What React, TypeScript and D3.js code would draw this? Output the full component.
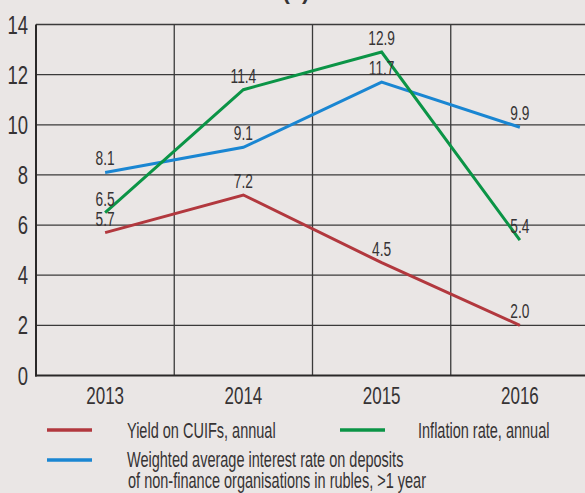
import React, { useEffect, useRef } from "react";
import * as d3 from "d3";

// chart values
const years = ["2013", "2014", "2015", "2016"];
const yieldCuif = [5.7, 7.2, 4.5, 2.0];
const inflation = [6.5, 11.4, 12.9, 5.4];
const deposits = [8.1, 9.1, 11.7, 9.9];
const yTicks = [0, 2, 4, 6, 8, 10, 12, 14];

const seriesList = [
  { name: "cuif", values: yieldCuif, color: "#b2383e" },
  { name: "deposits", values: deposits, color: "#1a86d2" },
  { name: "inflation", values: inflation, color: "#0b9446" },
];

const W = 585, H = 493;
const FONT = "'Liberation Sans Narrow', 'Liberation Sans', sans-serif";
const INK = "#363334";

const App = () => {
  const ref = useRef(null);

  useEffect(() => {
    document.body.style.margin = "0";
    const svg = d3.select(ref.current);
    svg.selectAll("*").remove();

    const x = d3.scaleBand().domain(years).range([36, 589]).padding(0);
    const y = d3.scaleLinear().domain([0, 14]).range([375.5, 24.5]);
    const cx = (d) => x(d) + x.bandwidth() / 2;

    // condensed text helper (the original font is very narrow)
    const label = (g, tx, ty, str, size, anchor, squeeze) =>
      g.append("text")
        .attr("transform", `translate(${tx},${ty}) scale(${squeeze},1)`)
        .attr("text-anchor", anchor)
        .attr("font-family", FONT)
        .attr("font-size", size)
        .attr("fill", INK)
        .text(str);

    svg.append("rect").attr("width", W).attr("height", H).attr("fill", "#eae6e5");

    // cut-off title at the top
    svg.append("text")
      .attr("x", 296).attr("y", -1)
      .attr("text-anchor", "middle")
      .attr("font-family", FONT)
      .attr("font-weight", 700)
      .attr("font-size", 22)
      .attr("fill", INK)
      .text("(a)");

    const grid = svg.append("g");
    grid.selectAll("line.h")
      .data(yTicks.filter(d => d > 0))
      .join("line")
      .attr("x1", 36).attr("x2", 589)
      .attr("y1", d => y(d)).attr("y2", d => y(d))
      .attr("stroke", "#3b3a3a").attr("stroke-width", 1.3);
    grid.selectAll("line.v")
      .data(years.slice(1))
      .join("line")
      .attr("x1", d => x(d)).attr("x2", d => x(d))
      .attr("y1", y(14)).attr("y2", y(0))
      .attr("stroke", "#3b3a3a").attr("stroke-width", 1.3);

    // axes lines
    svg.append("line")
      .attr("x1", 36).attr("x2", 36).attr("y1", y(14)).attr("y2", y(0) + 1)
      .attr("stroke", "#2a2828").attr("stroke-width", 2);
    svg.append("line")
      .attr("x1", 35).attr("x2", 589).attr("y1", y(0)).attr("y2", y(0))
      .attr("stroke", "#2a2828").attr("stroke-width", 2);

    // tick labels
    const ticks = svg.append("g");
    yTicks.forEach(t => label(ticks, 28, y(t) + 9, String(t), 25, "end", 0.74));
    years.forEach(yr => label(ticks, cx(yr), 404, yr, 23, "middle", 0.74));

    // series
    const line = d3.line().x((d, i) => cx(years[i])).y(d => y(d));
    seriesList.forEach(s => {
      svg.append("path")
        .datum(s.values)
        .attr("d", line)
        .attr("fill", "none")
        .attr("stroke", s.color)
        .attr("stroke-width", 3);
    });

    const labels = svg.append("g");
    seriesList.forEach(s => {
      s.values.forEach((v, i) => label(labels, cx(years[i]), y(v) - 7, v.toFixed(1), 20.5, "middle", 0.67));
    });

    // legend
    const lg = svg.append("g");
    const legendLine = (x1, ly, color) =>
      lg.append("line")
        .attr("x1", x1).attr("x2", x1 + 45)
        .attr("y1", ly).attr("y2", ly)
        .attr("stroke", color).attr("stroke-width", 3.5);
    legendLine(47, 430, seriesList[0].color);
    legendLine(340, 430, seriesList[2].color);
    legendLine(47, 460, seriesList[1].color);
    label(lg, 127, 438, "Yield on CUIFs, annual", 22, "start", 0.66);
    label(lg, 418, 438, "Inflation rate, annual", 22, "start", 0.66);
    label(lg, 127, 467, "Weighted average interest rate on deposits", 22, "start", 0.66);
    label(lg, 128, 488, "of non-finance organisations in rubles, >1 year", 22, "start", 0.66);
  }, []);

  return <svg ref={ref} width={W} height={H} style={{ display: "block" }}></svg>;
};

export default App;
